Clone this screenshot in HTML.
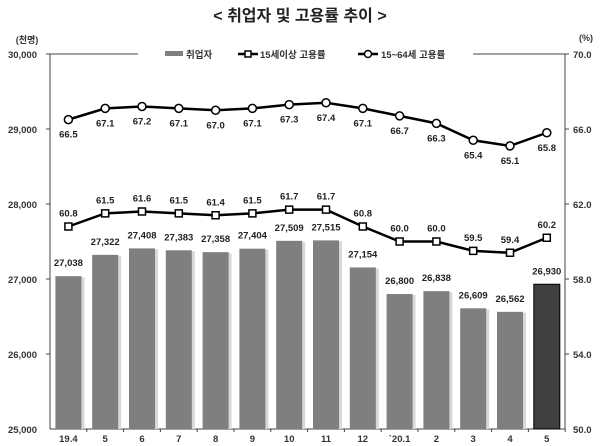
<!DOCTYPE html>
<html><head><meta charset="utf-8"><style>
html,body{margin:0;padding:0;background:#fff;}
svg{display:block;font-family:"Liberation Sans","Noto Sans CJK KR",sans-serif;}
</style></head><body>
<svg width="600" height="446" viewBox="0 0 600 446" xmlns="http://www.w3.org/2000/svg">
<text x="300" y="21" text-anchor="middle" font-size="16" font-weight="bold" fill="#222">&lt; 취업자 및 고용률 추이 &gt;</text>
<text x="27" y="43" text-anchor="middle" font-size="9" font-weight="bold" fill="#333">(천명)</text>
<text x="586" y="41" text-anchor="middle" font-size="9" font-weight="bold" fill="#333">(%)</text>
<g font-size="9.5" font-weight="bold" fill="#333" text-anchor="end">
<text x="37" y="58">30,000</text><text x="37" y="133">29,000</text><text x="37" y="208">28,000</text>
<text x="37" y="283">27,000</text><text x="37" y="358">26,000</text><text x="37" y="433">25,000</text>
</g>
<g font-size="9.5" font-weight="bold" fill="#333">
<text x="573" y="58">70.0</text><text x="573" y="133">66.0</text><text x="573" y="208">62.0</text>
<text x="573" y="283">58.0</text><text x="573" y="358">54.0</text><text x="573" y="433">50.0</text>
</g>
<g stroke="#444" stroke-width="1">
<line x1="50" y1="54" x2="50" y2="429"/><line x1="565" y1="54" x2="565" y2="429"/>
<line x1="50" y1="429" x2="565" y2="429"/>
<line x1="50" y1="54" x2="138" y2="54"/><line x1="473" y1="54" x2="565" y2="54"/>
<line x1="46" y1="54" x2="50" y2="54"/><line x1="46" y1="129" x2="50" y2="129"/><line x1="46" y1="204" x2="50" y2="204"/><line x1="46" y1="279" x2="50" y2="279"/><line x1="46" y1="354" x2="50" y2="354"/>
<line x1="565" y1="54" x2="569" y2="54"/><line x1="565" y1="129" x2="569" y2="129"/><line x1="565" y1="204" x2="569" y2="204"/><line x1="565" y1="279" x2="569" y2="279"/><line x1="565" y1="354" x2="569" y2="354"/>
</g>
<!-- legend -->
<rect x="165" y="51" width="18" height="5" fill="#7f7f7f"/>
<text x="186" y="58" font-size="9.5" font-weight="bold" fill="#333">취업자</text>
<line x1="238" y1="54" x2="258" y2="54" stroke="#000" stroke-width="2.5"/>
<rect x="245" y="51" width="6" height="6" fill="#fff" stroke="#000" stroke-width="1.5"/>
<text x="260" y="58" font-size="9.5" font-weight="bold" fill="#333">15세이상 고용률</text>
<line x1="358" y1="54" x2="378" y2="54" stroke="#000" stroke-width="2.5"/>
<circle cx="368" cy="54" r="3.5" fill="#fff" stroke="#000" stroke-width="1.5"/>
<text x="381" y="58" font-size="9.5" font-weight="bold" fill="#333">15~64세 고용률</text>
<g id="bars"></g>
<g id="lines"></g>
<g id="xl" font-size="9.5" font-weight="bold" fill="#333" text-anchor="middle"></g>
</svg>
<script>
var ns="http://www.w3.org/2000/svg";
function el(t,a,p,txt){var e=document.createElementNS(ns,t);for(var k in a)e.setAttribute(k,a[k]);if(txt!==undefined)e.textContent=txt;document.getElementById(p).appendChild(e);return e;}
var emp=[27038,27322,27408,27383,27358,27404,27509,27515,27154,26800,26838,26609,26562,26930];
var r15=[60.8,61.5,61.6,61.5,61.4,61.5,61.7,61.7,60.8,60.0,60.0,59.5,59.4,60.2];
var r64=[66.5,67.1,67.2,67.1,67.0,67.1,67.3,67.4,67.1,66.7,66.3,65.4,65.1,65.8];
var xl=["19.4","5","6","7","8","9","10","11","12","`20.1","2","3","4","5"];
function cx(i){return 50+36.8*(i+0.5);}
function ye(v){return 429-(v-25000)*0.075;}
function yr(v){return 54+(70-v)*18.75;}
function fmt(n){return String(n).replace(/(\d)(\d{3})$/,"$1,$2");}
for(var i=0;i<14;i++){
 var x=cx(i),y=ye(emp[i]);
 if(i<13){el("rect",{x:x-12+2,y:y+1,width:26,height:429-y-1,fill:"#d8d8d8"},"bars");
  el("rect",{x:x-13,y:y,width:26,height:429-y,fill:"#7f7f7f"},"bars");}
 else el("rect",{x:x-13,y:y,width:26,height:429-y,fill:"#404040",stroke:"#000","stroke-width":1},"bars");
 el("text",{x:x,y:y-10,"font-size":"9.5","font-weight":"bold",fill:"#222","text-anchor":"middle"},"bars",fmt(emp[i]));
 el("text",{x:x,y:442},"xl",xl[i]);
 el("line",{x1:50+36.8*(i+1),y1:429,x2:50+36.8*(i+1),y2:432,stroke:"#444"},"bars");
}
var p1="",p2="";
for(var i=0;i<14;i++){p1+=(i?"L":"M")+cx(i)+","+yr(r15[i]);p2+=(i?"L":"M")+cx(i)+","+yr(r64[i]);}
el("path",{d:p1,fill:"none",stroke:"#000","stroke-width":2.5},"lines");
el("path",{d:p2,fill:"none",stroke:"#000","stroke-width":2.5},"lines");
for(var i=0;i<14;i++){
 var x=cx(i),a=yr(r15[i]),b=yr(r64[i]);
 el("rect",{x:x-3.5,y:a-3.5,width:7,height:7,fill:"#fff",stroke:"#000","stroke-width":1.5},"lines");
 el("circle",{cx:x,cy:b,r:4,fill:"#fff",stroke:"#000","stroke-width":1.5},"lines");
 el("text",{x:x,y:a-10,"font-size":"9.5","font-weight":"bold",fill:"#222","text-anchor":"middle"},"lines",r15[i].toFixed(1));
 el("text",{x:x,y:b+18,"font-size":"9.5","font-weight":"bold",fill:"#222","text-anchor":"middle"},"lines",r64[i].toFixed(1));
}
</script>
</body></html>
